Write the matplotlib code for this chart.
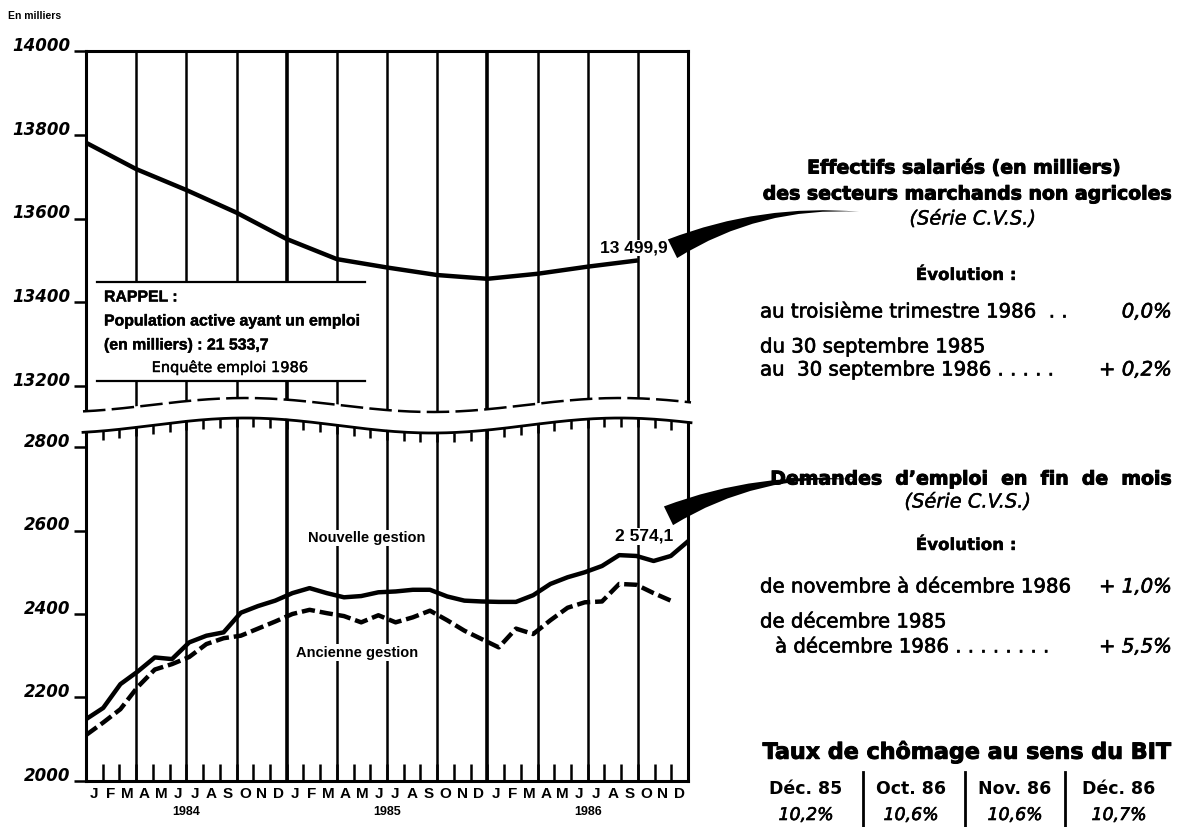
import numpy as np
import matplotlib.pyplot as plt
from matplotlib.transforms import Affine2D
from matplotlib.patches import FancyArrowPatch, Polygon, Rectangle
from matplotlib import patheffects as pe

W, H = 1177, 827

# --- data ---
months = ["J", "F", "M", "A", "M", "J", "J", "A", "S", "O", "N", "D"]
years = ["1984", "1985", "1986"]

# effectifs salariés, end of each quarter (from Dec 1983 to Sep 1986)
effectifs = [13781, 13718, 13668, 13614, 13551, 13503,
             13483, 13465, 13456, 13468, 13485, 13499.9]

# demandes d'emploi, monthly Jan 1984 - Dec 1986
nouvelle = [2148, 2175, 2232, 2262, 2296, 2292, 2332, 2348, 2356, 2403, 2419, 2432,
            2450, 2462, 2450, 2440, 2443, 2452, 2454, 2458, 2458, 2442, 2432, 2430,
            2429, 2429, 2445, 2472, 2488, 2500, 2515, 2541, 2539, 2527, 2539, 2574.1]
ancienne = [2110, 2140, 2172, 2225, 2267, 2280, 2297, 2328, 2342, 2348, 2365, 2382,
            2400, 2410, 2402, 2395, 2380, 2397, 2380, 2392, 2408, 2385, 2360, 2340,
            2320, 2365, 2352, 2385, 2415, 2428, 2430, 2472, 2470, 2450, 2432]

top_ticks = [13200, 13400, 13600, 13800, 14000]
bot_ticks = [2000, 2200, 2400, 2600, 2800]

bit_months = ["Déc. 85", "Oct. 86", "Nov. 86", "Déc. 86"]
bit_rates = ["10,2%", "10,6%", "10,6%", "10,7%"]

plt.rcParams['font.family'] = ['Liberation Sans', 'DejaVu Sans']
dv = ['DejaVu Sans']
heavy = [pe.withStroke(linewidth=0.7, foreground='black')]
medium = [pe.withStroke(linewidth=0.45, foreground='black')]
light = [pe.withStroke(linewidth=0.3, foreground='black')]

fig = plt.figure(figsize=(W / 100, H / 100), dpi=100)
# pixel coordinates (origin top-left) for decorations
tpx = Affine2D().scale(1 / W, -1 / H).translate(0, 1) + fig.transFigure

x_left, x_right = 86, 688
top_y0, top_y1 = 51, 412      # 14000 at 51
bot_y0, bot_y1 = 413, 781     # 2000 at 781
top_scale = (386 - 51) / 800
bot_scale = (781 - 447) / 800

ax_top = fig.add_axes([x_left / W, 1 - top_y1 / H, (x_right - x_left) / W, (top_y1 - top_y0) / H])
ax_bot = fig.add_axes([x_left / W, 1 - bot_y1 / H, (x_right - x_left) / W, (bot_y1 - bot_y0) / H])

# top panel
qx = np.arange(len(effectifs)) * 3
ax_top.plot(qx, effectifs, color='black', lw=3.2, solid_capstyle='butt', zorder=3)
ax_top.set_xlim(0, 36)
ax_top.set_ylim(14000 - (top_y1 - top_y0) / top_scale, 14000)

# bottom panel
mx = np.arange(len(nouvelle)) * 36 / 35
ax_bot.plot(mx, nouvelle, color='black', lw=3.2, zorder=3)
ax_bot.plot(mx[:len(ancienne)], ancienne, color='black', lw=3.2, dashes=(3, 1.1), zorder=3)
ax_bot.set_xlim(0, 36)
ax_bot.set_ylim(2000, 2000 + (bot_y1 - bot_y0) / bot_scale)

for ax in (ax_top, ax_bot):
    for q in range(3, 36, 3):
        ax.axvline(q, color='black', lw=2.6 if q % 12 == 0 else 1.8, zorder=1)
    for s in ax.spines.values():
        s.set_linewidth(2.2)
ax_top.spines['bottom'].set_visible(False)
ax_bot.spines['top'].set_visible(False)

ax_top.set_xticks([])
ax_top.set_yticks(top_ticks, [str(t) for t in top_ticks])
ax_bot.set_yticks(bot_ticks, [str(t) for t in bot_ticks])
for ax in (ax_top, ax_bot):
    ax.tick_params(axis='y', direction='out', length=9, width=1.8, pad=2)
    for lab in ax.get_yticklabels():
        lab.set_family(dv)
        lab.set_fontsize(12)
        lab.set_fontstyle('italic')
        lab.set_fontweight('bold')
        lab.set_verticalalignment('baseline')

ax_bot.set_xticks(np.arange(0, 37))
ax_bot.set_xticklabels([])
ax_bot.tick_params(axis='x', which='major', direction='in', length=12, width=1.8)
ax_bot.set_xticks(np.arange(36) + 0.5, months * 3, minor=True)
ax_bot.tick_params(axis='x', which='minor', length=0, pad=4, labelsize=11)
for lab in ax_bot.get_xticklabels(minor=True):
    lab.set_fontweight('bold')
for i, yr in enumerate(years):
    ax_bot.text(6 + 12 * i, -0.085, yr, transform=ax_bot.get_xaxis_transform(),
                ha='center', va='center', fontsize=9, fontweight='bold')

# axis break (wavy lines)
wx = np.linspace(x_left - 3, x_right + 3, 200)
up_wave = 405 - 7 * np.cos(2 * np.pi * (wx - 245) / 375)
lo_wave = 425.5 - 7.5 * np.cos(2 * np.pi * (wx - 245) / 375)
gap = Polygon(np.column_stack([np.r_[wx, wx[::-1]], np.r_[up_wave - 0.5, lo_wave[::-1] - 1]]),
              closed=True, facecolor='white', edgecolor='none', transform=tpx,
              clip_on=False, zorder=6)
ax_bot.add_patch(gap)
ax_bot.plot(wx, up_wave, color='black', lw=1.8, dashes=(9, 2.5), transform=tpx,
            clip_on=False, zorder=7)
ax_bot.plot(wx, lo_wave, color='black', lw=2, transform=tpx, clip_on=False, zorder=7)
tick_x = x_left + np.arange(1, 36) * (x_right - x_left) / 36
tick_y = 425.5 - 7.5 * np.cos(2 * np.pi * (tick_x - 245) / 375)
ax_bot.vlines(tick_x, tick_y, tick_y + 9, color='black', lw=1.8, transform=tpx,
              clip_on=False, zorder=7)

# RAPPEL box
ax_top.add_patch(Rectangle((97, 282), 268, 99, facecolor='white', edgecolor='none',
                           transform=tpx, clip_on=False, zorder=4))
ax_top.plot([97, 365], [282, 282], color='black', lw=1.6, transform=tpx, zorder=5)
ax_top.plot([97, 365], [381, 381], color='black', lw=1.6, transform=tpx, zorder=5)
fig.text(104, 297, "RAPPEL :", transform=tpx, ha='left', va='center',
         fontsize=11.4, fontweight='bold', path_effects=light)
fig.text(104, 321, "Population active ayant un emploi", transform=tpx, ha='left',
         va='center', fontsize=11.4, fontweight='bold', path_effects=light)
fig.text(104, 345, "(en milliers) : 21 533,7", transform=tpx, ha='left',
         va='center', fontsize=11.4, fontweight='bold', path_effects=light)
fig.text(230, 367, "Enquête emploi 1986", transform=tpx, ha='center',
         va='center', fontsize=10.5, family=dv, path_effects=light)

fig.text(8, 16, "En milliers", transform=tpx, ha='left', va='center',
         fontsize=7.5, fontweight='bold')

# series labels
ax_bot.text(16.8, 2582, "Nouvelle gestion", ha='center', va='center', fontsize=10.5,
            fontweight='bold', zorder=4,
            bbox=dict(facecolor='white', edgecolor='none', pad=1))
ax_bot.text(16.2, 2307, "Ancienne gestion", ha='center', va='center', fontsize=10.5,
            fontweight='bold', zorder=4,
            bbox=dict(facecolor='white', edgecolor='none', pad=1))
ax_top.text(34.8, 13530, "13 499,9", ha='right', va='center', fontsize=12.5,
            fontweight='bold', zorder=4,
            bbox=dict(facecolor='white', edgecolor='none', pad=0.5))
ax_bot.text(35.1, 2586, "2 574,1", ha='right', va='center', fontsize=12.5,
            fontweight='bold', zorder=4,
            bbox=dict(facecolor='white', edgecolor='none', pad=0.5))

# swoosh arrows
for head, tail in [((670, 250), (862, 212)), ((666, 517), (862, 480))]:
    fig.patches.append(FancyArrowPatch(head, tail, transform=tpx,
                                       arrowstyle='wedge,tail_width=0.5,shrink_factor=0.3',
                                       connectionstyle='arc3,rad=-0.14',
                                       mutation_scale=30, color='black', lw=0))

# right-hand text
def rt(x, y, s, ha='left', size=14.2, weight='normal', style='normal', fx=medium):
    fig.text(x, y, s, transform=tpx, ha=ha, va='center', fontsize=size,
             fontweight=weight, fontstyle=style, family=dv, path_effects=fx)

rt(964, 168, "Effectifs salariés (en milliers)", ha='center', size=13.6, weight='bold', fx=heavy)
rt(1172, 194, "des secteurs marchands non agricoles", ha='right', size=13.6, weight='bold', fx=heavy)
rt(973, 219, "(Série C.V.S.)", ha='center', size=14, style='italic', fx=light)
rt(966, 275, "Évolution :", ha='center', size=12, weight='bold', fx=light)
rt(760, 312, "au troisième trimestre 1986  . .")
rt(1172, 312, "0,0%", ha='right', style='italic')
rt(760, 347, "du 30 septembre 1985")
rt(760, 370, "au  30 septembre 1986 . . . . .")
rt(1172, 370, "+ 0,2%", ha='right', style='italic')

rt(1172, 479, "Demandes  d’emploi  en  fin  de  mois", ha='right', size=13.6, weight='bold', fx=heavy)
rt(968, 502, "(Série C.V.S.)", ha='center', size=14, style='italic', fx=light)
rt(966, 545, "Évolution :", ha='center', size=12, weight='bold', fx=light)
rt(760, 587, "de novembre à décembre 1986")
rt(1172, 587, "+ 1,0%", ha='right', style='italic')
rt(760, 622, "de décembre 1985")
rt(775, 647, "à décembre 1986 . . . . . . . .")
rt(1172, 647, "+ 5,5%", ha='right', style='italic')

rt(1172, 752, "Taux de chômage au sens du BIT", ha='right', size=16, weight='bold', fx=heavy)
col_x = [806, 911, 1015, 1119]
for cx, m, r in zip(col_x, bit_months, bit_rates):
    rt(cx, 789, m, ha='center', size=12.5, weight='bold', fx=None)
    rt(cx, 815, r, ha='center', size=12.5, style='italic')
for sx in [863, 965, 1065]:
    fig.add_artist(plt.Line2D([sx, sx], [772, 826], color='black', lw=2, transform=tpx))

fig.savefig("out.png", dpi=100)
